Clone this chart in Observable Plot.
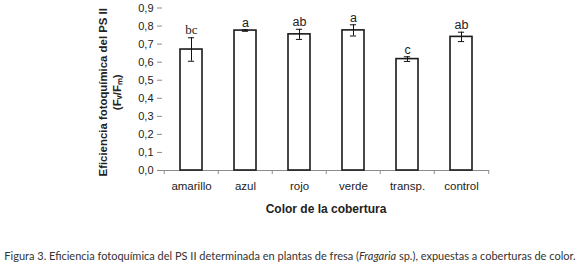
<!DOCTYPE html>
<html>
<head>
<meta charset="utf-8">
<script src="https://cdn.jsdelivr.net/npm/d3@7"></script>
<script src="https://cdn.jsdelivr.net/npm/@observablehq/plot@0.6"></script>
<style>
  html, body { margin: 0; padding: 0; background: #fff; }
  #wrap { position: relative; width: 580px; height: 270px; overflow: hidden; }
  #caption { position: absolute; left: 0; width: 580px; top: 249px; text-align: center;
    font-family: Lato, "Open Sans", sans-serif; font-size: 11px; color: #333; white-space: nowrap; }
</style>
</head>
<body>
<div id="wrap">
  <div id="chart"></div>
  <div id="caption">Figura 3. Eficiencia fotoquímica del PS II determinada en plantas de fresa (<i>Fragaria</i> sp.), expuestas a coberturas de color.</div>
</div>
<script>
const categories = ["amarillo", "azul", "rojo", "verde", "transp.", "control"];
const means = [0.670, 0.775, 0.754, 0.776, 0.617, 0.740];
const errors = [0.065, 0.004, 0.028, 0.031, 0.013, 0.026];
const letters = ["bc", "a", "ab", "a", "c", "ab"];
const yTicks = [0, 0.1, 0.2, 0.3, 0.4, 0.5, 0.6, 0.7, 0.8, 0.9];

const data = categories.map((c, i) => ({cat: c, mean: means[i], err: errors[i], lo: means[i] - errors[i], hi: means[i] + errors[i], letter: letters[i]}));
const serifLetters = data.filter(d => d.letter === "bc");
const sansLetters = data.filter(d => d.letter !== "bc");

const axisColor = "#8c8c8c";
const textColor = "#222";

const chart = Plot.plot({
  width: 580,
  height: 225,
  marginLeft: 162,
  marginRight: 91,
  marginTop: 7.5,
  marginBottom: 55,
  style: {fontFamily: "'Liberation Sans', Arial, sans-serif", fontSize: "11px", color: textColor, background: "white"},
  x: {domain: categories, paddingInner: 0.6, paddingOuter: 0.3, label: null},
  y: {domain: [0, 0.9], label: null},
  marks: [
    // y axis
    Plot.ruleX([0], {frameAnchor: "left", stroke: axisColor, strokeWidth: 1}),
    Plot.axisY({ticks: yTicks, tickSize: 5, tickPadding: 4, stroke: axisColor, fill: textColor,
      tickFormat: d => d.toFixed(1).replace(".", ","), fontSize: 11}),
    // x axis baseline
    Plot.ruleY([0], {stroke: axisColor, strokeWidth: 1}),
    // x ticks at band boundaries
    Plot.ruleX(categories, {x: d => d, dx: -27.25, insetTop: 162.5, insetBottom: -4, stroke: axisColor}),
    Plot.ruleX(categories.slice(-1), {x: d => d, dx: 27.25, insetTop: 162.5, insetBottom: -4, stroke: axisColor}),
    Plot.axisX({tickSize: 0, tickPadding: 11, fill: textColor, fontSize: 11.5}),
    // bars
    Plot.barY(data, {x: "cat", y: "mean", fill: "white", stroke: "#1a1a1a", strokeWidth: 1.6}),
    // error bars
    Plot.ruleX(data, {x: "cat", y1: "lo", y2: "hi", stroke: "#111", strokeWidth: 1}),
    Plot.tickY(data, {x: "cat", y: "lo", stroke: "#111", strokeWidth: 1, insetLeft: 7.9, insetRight: 7.9}),
    Plot.tickY(data, {x: "cat", y: "hi", stroke: "#111", strokeWidth: 1, insetLeft: 7.9, insetRight: 7.9}),
    // significance letters
    Plot.text(serifLetters, {x: "cat", y: "hi", text: "letter", lineAnchor: "bottom", dy: -4,
      fontFamily: "'Liberation Serif', 'Times New Roman', serif", fontSize: 13, fill: textColor}),
    Plot.text(sansLetters, {x: "cat", y: "hi", text: "letter", lineAnchor: "bottom", dy: -3,
      fontSize: 12.5, fill: textColor}),
    // axis titles
    Plot.text(["Color de la cobertura"], {frameAnchor: "bottom", dy: 42, fontWeight: "bold", fontSize: 12, fill: textColor}),
    Plot.text(["Eficiencia fotoquímica del PS II"], {frameAnchor: "left", textAnchor: "middle", dx: -59, dy: 3, rotate: -90,
      fontWeight: "bold", fontSize: 11.4, fill: textColor}),
    Plot.text(["(Fᵥ/Fₘ)"], {frameAnchor: "left", textAnchor: "middle", dx: -45, dy: 3, rotate: -90,
      fontWeight: "bold", fontSize: 11.4, fill: textColor})
  ]
});
document.getElementById("chart").appendChild(chart);
</script>
</body>
</html>
